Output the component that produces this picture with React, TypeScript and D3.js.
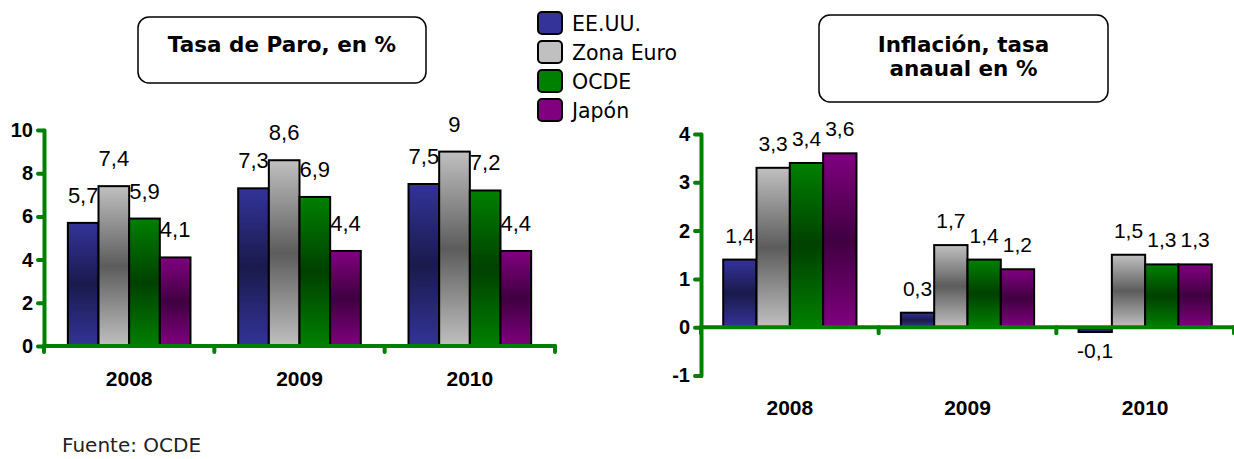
import React, { useEffect, useRef } from 'react'
import * as d3 from 'd3'

// datos
const years = ['2008', '2009', '2010']
const seriesNames = ['EE.UU.', 'Zona Euro', 'OCDE', 'Japón']
const paroEEUU = [5.7, 7.3, 7.5]
const paroZonaEuro = [7.4, 8.6, 9]
const paroOCDE = [5.9, 6.9, 7.2]
const paroJapon = [4.1, 4.4, 4.4]
const inflEEUU = [1.4, 0.3, -0.1]
const inflZonaEuro = [3.3, 1.7, 1.5]
const inflOCDE = [3.4, 1.4, 1.3]
const inflJapon = [3.6, 1.2, 1.3]
const paroTicks = [0, 2, 4, 6, 8, 10]
const inflTicks = [-1, 0, 1, 2, 3, 4]

const light = ['#333399', '#c0c0c0', '#008000', '#800080']
const dark = ['#1a1a4d', '#5c5c5c', '#004000', '#400040']
const green = '#008000'

const W = 1234
const H = 459

function fmt(v: number) {
	return String(v).replace('.', ',')
}

function drawChart(svg: any, opts: any) {
	const g = svg.append('g')
	const x = d3.scaleBand<string>()
		.domain(years)
		.range(opts.xRange)
		.paddingInner(opts.pad)
		.paddingOuter(opts.pad / 2)
	const xs = d3.scaleBand<string>()
		.domain(seriesNames)
		.range([0, x.bandwidth()])
	const y = d3.scaleLinear()
		.domain(opts.domain)
		.range(opts.yRange)

	const rows = years.map((yr, i) => ({
		year: yr,
		values: opts.series.map((s: number[], k: number) => ({ name: seriesNames[k], k: k, v: s[i] })),
	}))

	const groups = g.selectAll('g.grp')
		.data(rows)
		.enter()
		.append('g')
		.attr('transform', (d: any) => 'translate(' + x(d.year) + ',0)')

	groups.selectAll('rect')
		.data((d: any) => d.values)
		.enter()
		.append('rect')
		.attr('x', (d: any) => xs(d.name))
		.attr('width', xs.bandwidth())
		.attr('y', (d: any) => y(Math.max(0, d.v)))
		.attr('height', (d: any) => Math.abs(y(d.v) - y(0)))
		.attr('fill', (d: any) => 'url(#grad' + d.k + ')')
		.attr('stroke', '#000')
		.attr('stroke-width', 2)

	groups.selectAll('text')
		.data((d: any) => d.values)
		.enter()
		.append('text')
		.attr('x', (d: any) => (xs(d.name) as number) + xs.bandwidth() / 2)
		.attr('y', (d: any) => d.v < 0 ? y(d.v) + opts.labelGap + 9 : y(d.v) - opts.labelGap)
		.attr('text-anchor', 'middle')
		.style('font-family', '"Liberation Sans", Arial, sans-serif')
		.style('font-size', opts.labelSize + 'px')
		.attr('fill', '#000')
		.text((d: any) => fmt(d.v))

	// eje y
	const yAxis = d3.axisLeft(y)
		.tickValues(opts.ticks)
		.tickSize(6)
		.tickSizeOuter(0)
		.tickPadding(5)
		.tickFormat((d: any) => String(d))
	const ya = g.append('g')
		.attr('transform', 'translate(' + opts.xRange[0] + ',0)')
		.call(yAxis)
	ya.select('.domain')
		.attr('stroke', green)
		.attr('stroke-width', 4)
		.attr('stroke-linecap', 'round')
	ya.selectAll('.tick line')
		.attr('stroke', green)
		.attr('stroke-width', 4)
		.attr('stroke-linecap', 'round')
	ya.selectAll('.tick text')
		.attr('fill', '#000')
		.style('font-family', '"Liberation Sans", Arial, sans-serif')
		.style('font-weight', 'bold')
		.style('font-size', '20px')

	// eje x en el cero
	const y0 = y(0)
	g.append('line')
		.attr('x1', opts.xRange[0])
		.attr('x2', opts.xRange[1])
		.attr('y1', y0)
		.attr('y2', y0)
		.attr('stroke', green)
		.attr('stroke-width', 4)
		.attr('stroke-linecap', 'round')
	const bounds = d3.range(years.length + 1).map((i) => opts.xRange[0] + i * x.step())
	g.selectAll('line.xt')
		.data(bounds)
		.enter()
		.append('line')
		.attr('x1', (d: number) => d)
		.attr('x2', (d: number) => d)
		.attr('y1', y0)
		.attr('y2', y0 + 6)
		.attr('stroke', green)
		.attr('stroke-width', 4)
		.attr('stroke-linecap', 'round')

	g.selectAll('text.cat')
		.data(years)
		.enter()
		.append('text')
		.attr('x', (d: string) => (x(d) as number) + x.bandwidth() / 2)
		.attr('y', opts.yRange[0] + opts.catGap)
		.attr('text-anchor', 'middle')
		.style('font-family', '"Liberation Sans", Arial, sans-serif')
		.style('font-weight', 'bold')
		.style('font-size', '21px')
		.text((d: string) => d)
}

function titleBox(svg: any, x: number, y: number, w: number, h: number, lines: string[], baseY: number) {
	svg.append('rect')
		.attr('x', x)
		.attr('y', y)
		.attr('width', w)
		.attr('height', h)
		.attr('rx', 11)
		.attr('fill', '#fff')
		.attr('stroke', '#000')
		.attr('stroke-width', 1.5)
	svg.selectAll(null)
		.data(lines)
		.enter()
		.append('text')
		.attr('x', x + w / 2)
		.attr('y', (d: string, i: number) => baseY + i * 24)
		.attr('text-anchor', 'middle')
		.style('font-family', '"DejaVu Sans", Verdana, sans-serif')
		.style('font-weight', 'bold')
		.style('font-size', '21.5px')
		.text((d: string) => d)
}

export default function App() {
	const ref = useRef<SVGSVGElement>(null)

	useEffect(() => {
		const svg = d3.select(ref.current)
		svg.selectAll('*').remove()

		const defs = svg.append('defs')
		light.forEach((c, k) => {
			const lg = defs.append('linearGradient')
				.attr('id', 'grad' + k)
				.attr('x1', 0).attr('y1', 0).attr('x2', 0).attr('y2', 1)
			lg.append('stop').attr('offset', '0%').attr('stop-color', c)
			lg.append('stop').attr('offset', '50%').attr('stop-color', dark[k])
			lg.append('stop').attr('offset', '100%').attr('stop-color', c)
		})

		drawChart(svg, {
			series: [paroEEUU, paroZonaEuro, paroOCDE, paroJapon],
			domain: [0, 10],
			ticks: paroTicks,
			xRange: [44, 555],
			yRange: [346, 130],
			pad: 0.28,
			labelGap: 20,
			labelSize: 22,
			catGap: 40,
		})
		drawChart(svg, {
			series: [inflEEUU, inflZonaEuro, inflOCDE, inflJapon],
			domain: [-1, 4],
			ticks: inflTicks,
			xRange: [701, 1234],
			yRange: [375.5, 134],
			pad: 0.25,
			labelGap: 17,
			labelSize: 21,
			catGap: 39,
		})

		titleBox(svg, 138, 17, 288, 66, ['Tasa de Paro, en %'], 52)
		titleBox(svg, 819, 15, 289, 87, ['Inflación, tasa', 'anaual en %'], 52)

		// leyenda
		const leg = svg.append('g')
		const items = leg.selectAll('g')
			.data(seriesNames)
			.enter()
			.append('g')
			.attr('transform', (d: string, i: number) => 'translate(538,' + (12 + i * 29) + ')')
		items.append('rect')
			.attr('width', 24)
			.attr('height', 22)
			.attr('rx', 4)
			.attr('fill', (d: string, i: number) => light[i])
			.attr('stroke', '#000')
			.attr('stroke-width', 2)
		items.append('text')
			.attr('x', 34)
			.attr('y', 19)
			.style('font-family', '"DejaVu Sans", Verdana, sans-serif')
			.style('font-size', '20.5px')
			.text((d: string) => d)

		svg.append('text')
			.attr('x', 62)
			.attr('y', 452)
			.style('font-family', '"DejaVu Sans", Verdana, sans-serif')
			.style('font-size', '20px')
			.attr('fill', '#222')
			.text('Fuente: OCDE')
	}, [])

	return (
		<svg
			ref={ref}
			width={W}
			height={H}
			style={{ position: 'absolute', left: 0, top: 0, background: '#fff' }}
		/>
	)
}
